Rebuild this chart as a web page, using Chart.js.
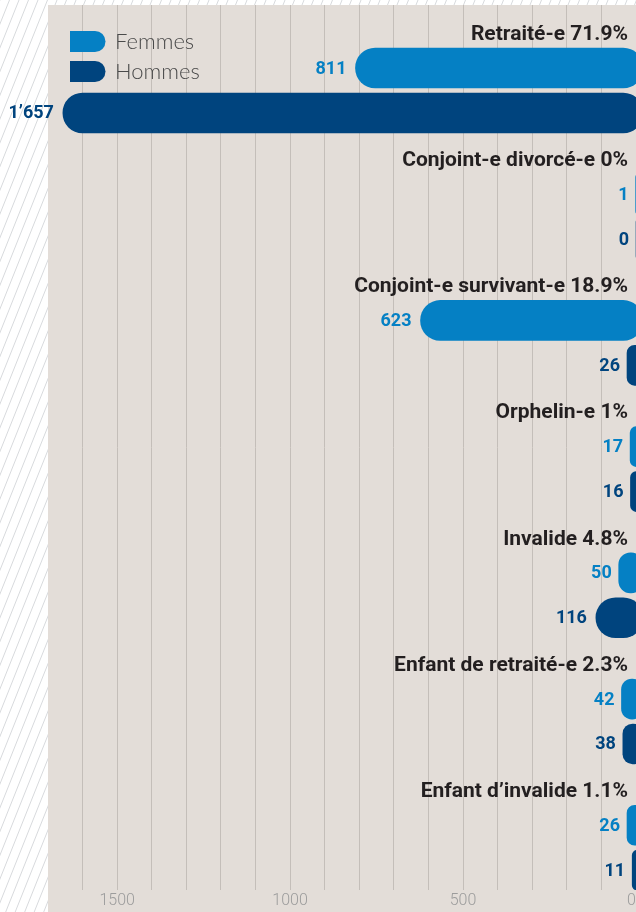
<!DOCTYPE html>
<html>
<head>
<meta charset="utf-8">
<script src="https://cdn.jsdelivr.net/npm/chart.js@4.4.1/dist/chart.umd.min.js"></script>
<style>
  html, body { margin: 0; padding: 0; background: #fff; overflow: hidden; }
  #wrap { width: 636px; height: 912px; position: relative; }
</style>
</head>
<body>
<div id="wrap"><canvas id="status-chart"></canvas></div>
<script>
const categories = ['Retraité-e', 'Conjoint-e divorcé-e', 'Conjoint-e survivant-e', 'Orphelin-e', 'Invalide', 'Enfant de retraité-e', 'Enfant d’invalide'];
const shares = [71.9, 0, 18.9, 1, 4.8, 2.3, 1.1];
const femmes = [811, 1, 623, 17, 50, 42, 26];
const hommes = [1657, 0, 26, 16, 116, 38, 11];
const xTicks = [0, 500, 1000, 1500];

document.addEventListener('DOMContentLoaded', function() {
    const FEMMES = '#0580c4';
    const HOMMES = '#00447e';

    // 1'657 style thousands
    const fmt = (v) => String(v).replace(/\B(?=(\d{3})+(?!\d))/g, '’');

    const background = {
        id: 'background',
        beforeDraw(chart) {
            const { ctx, width, height, chartArea } = chart;
            ctx.save();
            ctx.fillStyle = '#ffffff';
            ctx.fillRect(0, 0, width, height);
            ctx.strokeStyle = '#d8dadd';
            ctx.lineWidth = 1;
            for (let x = -height * 0.4; x < width; x += 9.5) {
                ctx.beginPath();
                ctx.moveTo(x, height);
                ctx.lineTo(x + height * 0.4, 0);
                ctx.stroke();
            }
            ctx.fillStyle = '#e3ddd8';
            ctx.fillRect(chartArea.left, chartArea.top, width - chartArea.left, height - chartArea.top);
            ctx.restore();
        }
    };

    const labels = {
        id: 'labels',
        afterDatasetsDraw(chart) {
            const { ctx, chartArea, scales: { y } } = chart;
            ctx.save();
            ctx.textAlign = 'right';
            ctx.textBaseline = 'middle';

            // category titles
            ctx.font = 'bold 21px Roboto';
            ctx.fillStyle = '#231f20';
            categories.forEach((cat, i) => {
                ctx.fillText(`${cat} ${shares[i]}%`, chartArea.right - 8, y.getPixelForValue(i - 0.456) + 1.5);
            });

            // values next to bars
            ctx.font = 'bold 18px Roboto';
            chart.data.datasets.forEach((ds, d) => {
                ctx.fillStyle = ds.backgroundColor;
                chart.getDatasetMeta(d).data.forEach((bar, i) => {
                    const gap = bar.width > 40 ? 9 : 7;
                    ctx.fillText(fmt(ds.data[i].x), bar.x - gap, bar.y + 1);
                });
            });

            // legend
            ctx.textAlign = 'left';
            ctx.font = '300 22px Lato';
            chart.data.datasets.forEach((ds, d) => {
                const top = 31 + d * 30;
                ctx.fillStyle = ds.backgroundColor;
                ctx.beginPath();
                ctx.moveTo(70, top);
                ctx.lineTo(95, top);
                ctx.arc(95, top + 10.5, 10.5, -Math.PI / 2, Math.PI / 2);
                ctx.lineTo(70, top + 21);
                ctx.closePath();
                ctx.fill();
                ctx.fillStyle = '#4a4a4a';
                ctx.fillText(ds.label, 115, top + 11);
            });
            ctx.restore();
        }
    };

    const ctx = document.getElementById('status-chart').getContext('2d');
    new Chart(ctx, {
        type: 'bar',
        data: {
            datasets: [
                {
                    label: 'Femmes',
                    data: femmes.map((v, i) => ({ x: v, y: i - 0.178 })),
                    backgroundColor: FEMMES
                },
                {
                    label: 'Hommes',
                    data: hommes.map((v, i) => ({ x: v, y: i + 0.178 })),
                    backgroundColor: HOMMES
                }
            ]
        },
        options: {
            indexAxis: 'y',
            responsive: true,
            maintainAspectRatio: false,
            animation: false,
            layout: { padding: { left: 48, top: 5, right: 0, bottom: 0 } },
            datasets: {
                bar: {
                    grouped: false,
                    barThickness: 40,
                    base: -20,
                    borderRadius: 20,
                    borderSkipped: false
                }
            },
            scales: {
                x: {
                    type: 'linear',
                    reverse: true,
                    min: 0,
                    max: 1700,
                    border: { display: false },
                    grid: {
                        drawTicks: false,
                        lineWidth: 1,
                        color: (c) => (c.tick && (c.tick.value === 0 || c.tick.value === 1700)) ? 'rgba(0,0,0,0)' : '#c4beb9'
                    },
                    ticks: {
                        stepSize: 100,
                        autoSkip: false,
                        maxRotation: 0,
                        padding: 3,
                        color: '#9c9c9c',
                        font: { family: 'Roboto', weight: '300', size: 16, lineHeight: 1 },
                        // the 0 label sits on the cut edge, pad it so it shows like the original
                        callback: (value) => !xTicks.includes(value) ? '' : (value === 0 ? '0\u2007' : String(value))
                    },
                    afterFit: (scale) => {
                        scale.paddingLeft = 0;
                        scale.paddingRight = 0;
                    }
                },
                y: {
                    type: 'linear',
                    display: false,
                    offset: false,
                    reverse: true,
                    min: -0.6775,
                    max: 6.335
                }
            },
            plugins: {
                legend: { display: false },
                tooltip: { enabled: false }
            }
        },
        plugins: [background, labels]
    });
});
</script>
</body>
</html>
